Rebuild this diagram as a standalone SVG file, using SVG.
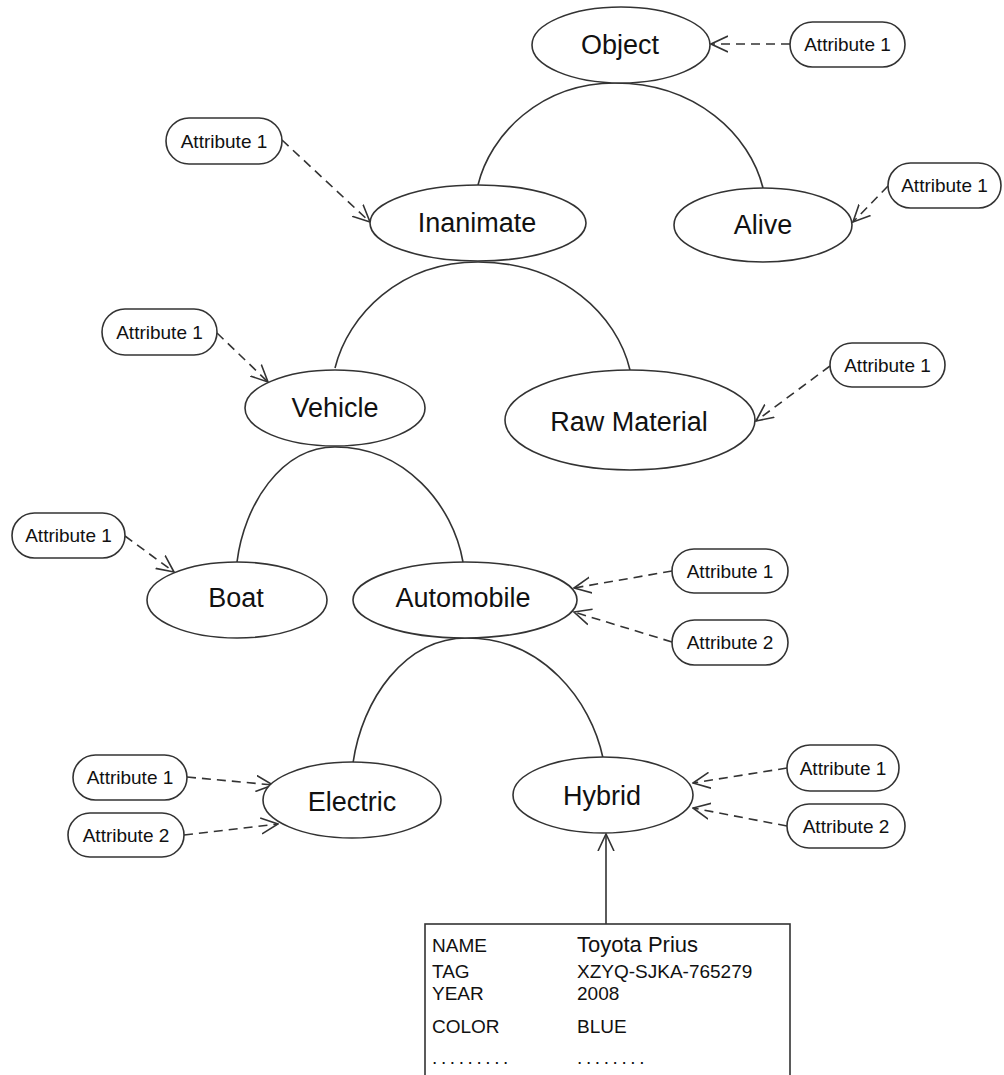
<svg xmlns="http://www.w3.org/2000/svg" width="1004" height="1075" viewBox="0 0 1004 1075">
<style>
.node ellipse{fill:#fff;stroke:#333;stroke-width:1.6}
.attr rect{fill:#fff;stroke:#333;stroke-width:1.6}
.lbl{font-family:"Liberation Sans",Arial,sans-serif;font-size:27px;fill:#111;text-anchor:middle}
.al{font-family:"Liberation Sans",Arial,sans-serif;font-size:19px;fill:#111;text-anchor:middle}
.arc{fill:none;stroke:#333;stroke-width:1.6}
.dash{fill:none;stroke:#333;stroke-width:1.6;stroke-dasharray:9 6;marker-end:url(#open)}
.solid{fill:none;stroke:#333;stroke-width:1.6;marker-end:url(#open)}
.tt{font-family:"Liberation Sans",Arial,sans-serif;font-size:19px;fill:#111}
</style>
<defs>
<marker id="open" viewBox="0 0 18 18" refX="17" refY="9" markerWidth="18" markerHeight="18" markerUnits="userSpaceOnUse" orient="auto">
<path d="M0,1 L17,9 L0,17" fill="none" stroke="#333" stroke-width="1.6"/>
</marker>
</defs>
<rect width="1004" height="1075" fill="#fff"/>
<g id="connectors">
<path class="arc" d="M478,185 C490,135 540,83 615,83 C696,83 750,135 763,188"/>
<path class="arc" d="M335,368 C348,315 400,262 478,262 C562,262 617,315 630,370"/>
<path class="arc" d="M237,562 C244,505 281,447 335,447 C405,447 453,505 463,562"/>
<path class="arc" d="M353,763 C362,700 404,638 467,638 C542,638 591,700 603,758"/>
<path class="dash" d="M790,44 L711,44"/>
<path class="dash" d="M282,140 L370,222"/>
<path class="dash" d="M888,186 L853,222"/>
<path class="dash" d="M217,333 L268,382"/>
<path class="dash" d="M830,366 L756,421"/>
<path class="dash" d="M125,536 L174,572"/>
<path class="dash" d="M672,571 L574,588"/>
<path class="dash" d="M672,642 L574,612"/>
<path class="dash" d="M187,777 L273,785"/>
<path class="dash" d="M184,835 L278,824"/>
<path class="dash" d="M787,768 L693,783"/>
<path class="dash" d="M787,826 L693,808"/>
<path class="solid" d="M606,924 L606,834"/>
</g>
<g id="object" class="node"><ellipse cx="621" cy="45" rx="89" ry="38"/><text class="lbl" x="620" y="54">Object</text></g>
<g id="inanimate" class="node"><ellipse cx="478" cy="223" rx="108" ry="38"/><text class="lbl" x="477" y="232">Inanimate</text></g>
<g id="alive" class="node"><ellipse cx="763" cy="225" rx="89" ry="37"/><text class="lbl" x="763" y="234">Alive</text></g>
<g id="vehicle" class="node"><ellipse cx="335" cy="408" rx="90" ry="38"/><text class="lbl" x="335" y="417">Vehicle</text></g>
<g id="rawmaterial" class="node"><ellipse cx="630" cy="420" rx="125" ry="50"/><text class="lbl" x="629" y="431">Raw Material</text></g>
<g id="boat" class="node"><ellipse cx="237" cy="600" rx="90" ry="38"/><text class="lbl" x="236" y="607">Boat</text></g>
<g id="automobile" class="node"><ellipse cx="465" cy="600" rx="112" ry="38"/><text class="lbl" x="463" y="607">Automobile</text></g>
<g id="electric" class="node"><ellipse cx="352" cy="800" rx="89" ry="38"/><text class="lbl" x="352" y="811">Electric</text></g>
<g id="hybrid" class="node"><ellipse cx="603" cy="795" rx="90" ry="38"/><text class="lbl" x="602" y="805">Hybrid</text></g>
<g id="attr-object" class="attr"><rect x="790" y="22" width="115" height="45" rx="22.5"/><text class="al" x="847.5" y="51">Attribute 1</text></g>
<g id="attr-inanimate" class="attr"><rect x="166" y="118" width="116" height="46" rx="23"/><text class="al" x="224" y="148">Attribute 1</text></g>
<g id="attr-alive" class="attr"><rect x="888" y="163" width="113" height="45" rx="22.5"/><text class="al" x="944.5" y="192">Attribute 1</text></g>
<g id="attr-vehicle" class="attr"><rect x="102" y="309" width="115" height="46" rx="23"/><text class="al" x="159.5" y="339">Attribute 1</text></g>
<g id="attr-raw" class="attr"><rect x="830" y="343" width="115" height="44" rx="22"/><text class="al" x="887.5" y="372">Attribute 1</text></g>
<g id="attr-boat" class="attr"><rect x="12" y="513" width="113" height="45" rx="22.5"/><text class="al" x="68.5" y="542">Attribute 1</text></g>
<g id="attr-auto-1" class="attr"><rect x="672" y="549" width="116" height="44" rx="22"/><text class="al" x="730" y="578">Attribute 1</text></g>
<g id="attr-auto-2" class="attr"><rect x="672" y="620" width="116" height="45" rx="22.5"/><text class="al" x="730" y="649">Attribute 2</text></g>
<g id="attr-elec-1" class="attr"><rect x="73" y="755" width="114" height="45" rx="22.5"/><text class="al" x="130" y="784">Attribute 1</text></g>
<g id="attr-elec-2" class="attr"><rect x="68" y="813" width="116" height="44" rx="22"/><text class="al" x="126" y="842">Attribute 2</text></g>
<g id="attr-hyb-1" class="attr"><rect x="787" y="745" width="112" height="46" rx="23"/><text class="al" x="843" y="775">Attribute 1</text></g>
<g id="attr-hyb-2" class="attr"><rect x="787" y="804" width="118" height="44" rx="22"/><text class="al" x="846" y="833">Attribute 2</text></g>
<g id="record">
<rect x="425" y="924" width="365" height="200" fill="#fff" stroke="#333" stroke-width="1.6"/>
<text class="tt" x="432" y="952">NAME</text>
<text class="tt" x="577" y="952" style="font-size:22px">Toyota Prius</text>
<text class="tt" x="432" y="978">TAG</text>
<text class="tt" x="577" y="978">XZYQ-SJKA-765279</text>
<text class="tt" x="432" y="1000">YEAR</text>
<text class="tt" x="577" y="1000">2008</text>
<text class="tt" x="432" y="1033">COLOR</text>
<text class="tt" x="577" y="1033">BLUE</text>
<text class="tt" x="432" y="1064" style="letter-spacing:3.6px">.........</text>
<text class="tt" x="577" y="1064" style="letter-spacing:3.6px">........</text>
</g>
</svg>
